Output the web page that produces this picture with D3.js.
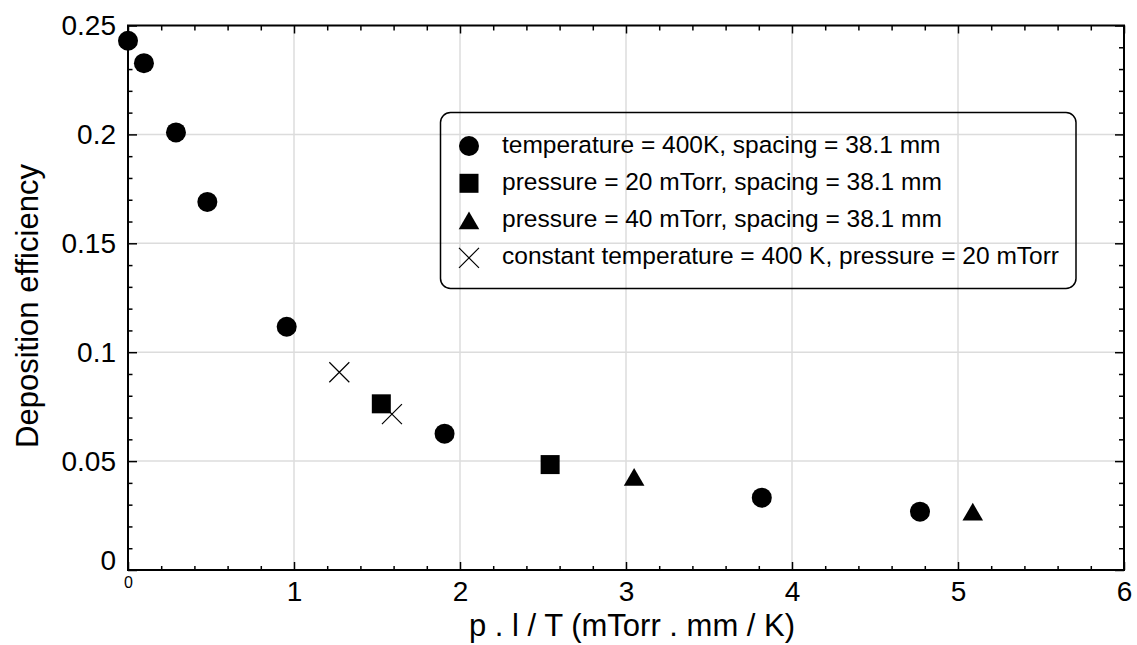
<!DOCTYPE html>
<html>
<head>
<meta charset="utf-8">
<script src="https://cdn.jsdelivr.net/npm/d3@7"></script>
<style>
  html, body { margin: 0; padding: 0; background: #fff; }
  svg { display: block; font-family: "Liberation Sans", Arial, Helvetica, sans-serif; }
</style>
</head>
<body>
<svg id="chart" width="1137" height="645"></svg>
<script>
// ---- data ----
const circleX = [0.0, 0.096, 0.289, 0.478, 0.956, 1.907, 3.818, 4.771];
const circleY = [0.243, 0.2327, 0.2009, 0.169, 0.1117, 0.0626, 0.0332, 0.0268];
const squareX = [1.526, 2.543];
const squareY = [0.0763, 0.0484];
const triangleX = [3.049, 5.089];
const triangleY = [0.0427, 0.0267];
const crossX = [1.273, 1.590];
const crossY = [0.0908, 0.0716];
const seriesNames = [
  "temperature = 400K, spacing = 38.1 mm",
  "pressure = 20 mTorr, spacing = 38.1 mm",
  "pressure = 40 mTorr, spacing = 38.1 mm",
  "constant temperature = 400 K, pressure = 20 mTorr"
];
const xTicks = [0, 1, 2, 3, 4, 5, 6];
const yTicks = [0, 0.05, 0.1, 0.15, 0.2, 0.25];
const xTitle = "p . l / T (mTorr . mm / K)";
const yTitle = "Deposition efficiency";

// ---- layout ----
const L = 128, R = 1124, T = 25.5, B = 570;
const svg = d3.select("#chart");
const x = d3.scaleLinear().domain([0, 6]).range([L, R]);
const y = d3.scaleLinear().domain([0, 0.25]).range([B, T]);

const xMinor = d3.range(0, 6.0001, 0.2).filter(v => Math.abs(v - Math.round(v)) > 1e-6);
const yMinor = d3.range(0, 0.25001, 0.01).filter(v => Math.abs(v / 0.05 - Math.round(v / 0.05)) > 1e-6);

// grid
const grid = svg.append("g").attr("stroke", "#dcdcdc").attr("stroke-width", 1.5);
grid.selectAll(".gx").data(xTicks.filter(v => v > 0 && v < 6)).join("line")
  .attr("x1", d => x(d)).attr("x2", d => x(d)).attr("y1", T).attr("y2", B);
grid.selectAll(".gy").data(yTicks.filter(v => v > 0 && v < 0.25)).join("line")
  .attr("y1", d => y(d)).attr("y2", d => y(d)).attr("x1", L).attr("x2", R);

// axes
function styleAxis(g) {
  g.select(".domain").remove();
  g.selectAll(".tick line").attr("stroke", "#000").attr("stroke-width", 1.5);
}
const fs = 28;
// bottom
const gB = svg.append("g").attr("transform", `translate(0,${B})`)
  .call(d3.axisBottom(x).tickValues(xTicks).tickFormat(d3.format("d")).tickSize(-8).tickPadding(11));
styleAxis(gB);
gB.selectAll("text").attr("font-size", fs).attr("font-family", null).attr("fill", "#000");
gB.selectAll(".tick").filter(d => d === 0).select("text").attr("font-size", 16).attr("y", 7);
svg.append("g").attr("transform", `translate(0,${B})`)
  .call(d3.axisBottom(x).tickValues(xMinor).tickFormat("").tickSize(-4)).call(styleAxis);
// top
svg.append("g").attr("transform", `translate(0,${T})`)
  .call(d3.axisTop(x).tickValues(xTicks).tickFormat("").tickSize(-8)).call(styleAxis);
svg.append("g").attr("transform", `translate(0,${T})`)
  .call(d3.axisTop(x).tickValues(xMinor).tickFormat("").tickSize(-5)).call(styleAxis);
// left
const gL = svg.append("g").attr("transform", `translate(${L},0)`)
  .call(d3.axisLeft(y).tickValues(yTicks).tickFormat(d => d === 0 ? "0" : d3.format("")(d)).tickSize(-9).tickPadding(12));
styleAxis(gL);
gL.selectAll("text").attr("font-size", fs).attr("font-family", null).attr("fill", "#000");
gL.selectAll(".tick").filter(d => d === 0).select("text").attr("y", -9);
svg.append("g").attr("transform", `translate(${L},0)`)
  .call(d3.axisLeft(y).tickValues(yMinor).tickFormat("").tickSize(-4.5)).call(styleAxis);
// right
svg.append("g").attr("transform", `translate(${R},0)`)
  .call(d3.axisRight(y).tickValues(yTicks).tickFormat("").tickSize(-9)).call(styleAxis);
svg.append("g").attr("transform", `translate(${R},0)`)
  .call(d3.axisRight(y).tickValues(yMinor).tickFormat("").tickSize(-5)).call(styleAxis);

// frame
svg.append("rect").attr("x", L).attr("y", T).attr("width", R - L).attr("height", B - T)
  .attr("fill", "none").attr("stroke", "#000").attr("stroke-width", 2);

// titles
svg.append("text").attr("x", 632).attr("y", 636).attr("text-anchor", "middle")
  .attr("font-size", 31).attr("fill", "#000").text(xTitle);
svg.append("text").attr("transform", "translate(38,306) rotate(-90)").attr("text-anchor", "middle")
  .attr("font-size", 31).attr("fill", "#000").text(yTitle);

// markers
const tri = "M0,-9 L10.3,8.7 L-10.3,8.7 Z";
function drawMarker(g, kind) {
  if (kind === 0) g.append("circle").attr("r", 10).attr("fill", "#000");
  else if (kind === 1) g.append("rect").attr("x", -9.5).attr("y", -9.5).attr("width", 19).attr("height", 19).attr("fill", "#000");
  else if (kind === 2) g.append("path").attr("d", tri).attr("fill", "#000");
  else g.append("path").attr("d", "M-10,-10 L10,10 M-10,10 L10,-10").attr("stroke", "#000").attr("stroke-width", 1.2).attr("fill", "none");
}
const series = [
  { xs: circleX, ys: circleY },
  { xs: squareX, ys: squareY },
  { xs: triangleX, ys: triangleY },
  { xs: crossX, ys: crossY }
];
series.forEach((s, k) => {
  s.xs.forEach((xv, i) => {
    const g = svg.append("g").attr("transform", `translate(${x(xv)},${y(s.ys[i])})`);
    drawMarker(g, k);
  });
});

// legend
svg.append("rect").attr("x", 440.5).attr("y", 112.5).attr("width", 635.5).attr("height", 176)
  .attr("rx", 10).attr("ry", 10).attr("fill", "#fff").attr("fill-opacity", 0)
  .attr("stroke", "#000").attr("stroke-width", 1.5);
seriesNames.forEach((name, i) => {
  const by = 152.5 + i * 37.3;
  const g = svg.append("g").attr("transform", `translate(469,${by - 6.5})`);
  drawMarker(g, i);
  svg.append("text").attr("x", 502).attr("y", by).attr("font-size", 24.5).attr("fill", "#000").text(name);
});
</script>
</body>
</html>
